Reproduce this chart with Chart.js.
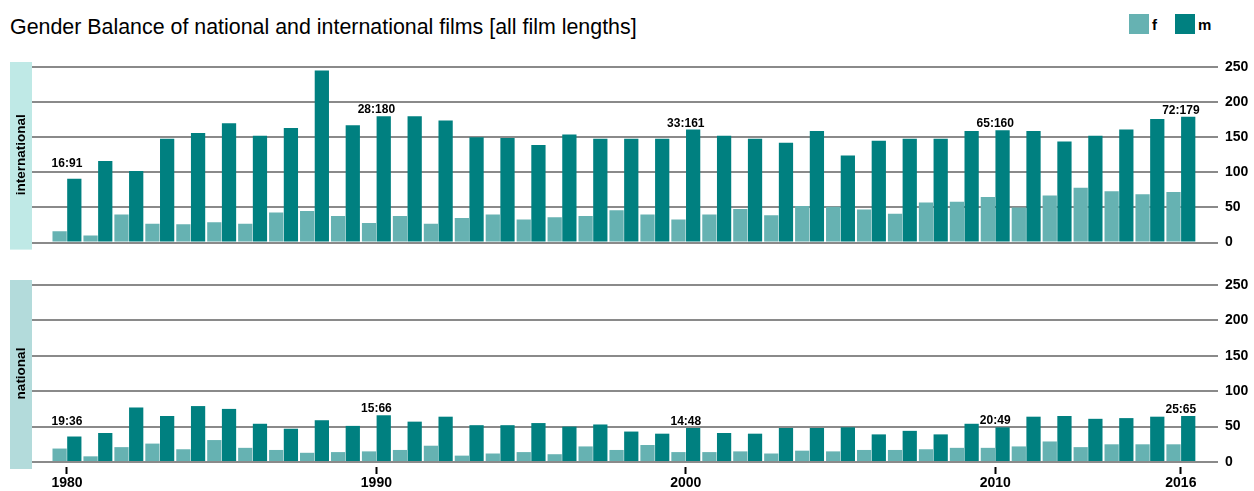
<!DOCTYPE html>
<html>
<head>
<meta charset="utf-8">
<script src="https://cdn.jsdelivr.net/npm/chart.js@4.4.1/dist/chart.umd.min.js"></script>
<style>
  body { margin: 0; background: #fff; font-family: "Liberation Sans", Arial, sans-serif; }
  #wrap { position: relative; width: 1254px; height: 491px; overflow: hidden; }
  #title { position: absolute; left: 10px; top: 17px; font-size: 21.4px; line-height: 1; color: #000; white-space: nowrap; }
  #legend { position: absolute; left: 1129px; top: 14px; display: flex; align-items: center; font-weight: bold; font-size: 15px; }
  #legend .item { display: flex; align-items: center; }
  #legend .item + .item { margin-left: 18px; }
  #legend .box { width: 20px; height: 20px; margin-right: 3px; }
  #intChart { position: absolute; left: 0; top: 0; }
  #natChart { position: absolute; left: 0; top: 258px; }
</style>
</head>
<body>
<div id="wrap">
  <div id="title">Gender Balance of national and international films [all film lengths]</div>
  <div id="legend"></div>
  <canvas id="intChart" width="1254" height="258"></canvas>
  <canvas id="natChart" width="1254" height="233"></canvas>
</div>
<script>
const years = [1980, 1981, 1982, 1983, 1984, 1985, 1986, 1987, 1988, 1989,
               1990, 1991, 1992, 1993, 1994, 1995, 1996, 1997, 1998, 1999,
               2000, 2001, 2002, 2003, 2004, 2005, 2006, 2007, 2008, 2009,
               2010, 2011, 2012, 2013, 2014, 2015, 2016];

const intF = [16, 10, 40, 27, 26, 29, 27, 43, 45, 38, 28, 38, 27, 35, 40, 33, 36, 38, 46, 40,
              33, 40, 48, 39, 52, 51, 47, 41, 57, 58, 65, 50, 67, 78, 73, 69, 72];
const intM = [91, 116, 102, 148, 156, 170, 152, 163, 245, 167, 180, 180, 174, 150, 149, 139, 154, 148, 148, 148,
              161, 152, 148, 142, 159, 124, 145, 148, 148, 159, 160, 159, 144, 152, 161, 176, 179];
const natF = [19, 8, 21, 26, 18, 31, 20, 17, 13, 14, 15, 17, 23, 9, 12, 14, 11, 22, 17, 24,
              14, 14, 15, 12, 16, 15, 17, 17, 18, 20, 20, 22, 29, 21, 25, 25, 25];
const natM = [36, 41, 77, 65, 79, 75, 54, 47, 59, 51, 66, 57, 64, 52, 52, 55, 50, 53, 43, 40,
              48, 41, 40, 48, 48, 49, 39, 44, 39, 54, 49, 64, 65, 61, 62, 64, 65];

const yearTicks = [1980, 1990, 2000, 2010, 2016];
const labelYears = [1980, 1990, 2000, 2010, 2016];
const yTicks = [0, 50, 100, 150, 200, 250];

const colF = "#66b2b2";
const colM = "#008080";
const FONT = '"Liberation Sans", Arial, sans-serif';

// legend
const legend = document.getElementById("legend");
[["f", colF], ["m", colM]].forEach(([name, col]) => {
  const it = document.createElement("div");
  it.className = "item";
  it.innerHTML = `<span class="box" style="background:${col}"></span><span>${name}</span>`;
  legend.appendChild(it);
});

// side label box + f:m annotations
const panelDecor = {
  id: "panelDecor",
  beforeDraw(chart, args, opts) {
    const { ctx, chartArea } = chart;
    ctx.save();
    ctx.fillStyle = opts.boxColor;
    ctx.fillRect(10, chartArea.top - 5, 22, chartArea.bottom - chartArea.top + 12);
    ctx.translate(21, (chartArea.top + chartArea.bottom) / 2);
    ctx.rotate(-Math.PI / 2);
    ctx.fillStyle = "#000";
    ctx.font = "bold 13.5px " + FONT;
    ctx.textAlign = "center";
    ctx.textBaseline = "middle";
    ctx.fillText(opts.text, 0, 0);
    ctx.restore();
  },
  afterDatasetsDraw(chart) {
    const { ctx } = chart;
    const xs = chart.scales.x, ys = chart.scales.y;
    const f = chart.data.datasets[0].data, m = chart.data.datasets[1].data;
    ctx.save();
    ctx.fillStyle = "#000";
    ctx.font = "bold 12px " + FONT;
    ctx.textAlign = "center";
    ctx.textBaseline = "alphabetic";
    labelYears.forEach((yr, k) => {
      const i = years.indexOf(yr);
      const top = ys.getPixelForValue(Math.max(f[i].y, m[i].y));
      const lift = k === 0 ? 12 : 3;
      ctx.fillText(f[i].y + ":" + m[i].y, xs.getPixelForValue(yr), top - lift);
    });
    ctx.restore();
  }
};

function makeChart(id, fVals, mVals, sideText, boxColor, showX) {
  return new Chart(document.getElementById(id), {
    type: "bar",
    data: {
      datasets: [
        { label: "f", data: years.map((y, i) => ({ x: y, y: fVals[i] })), backgroundColor: colF },
        { label: "m", data: years.map((y, i) => ({ x: y, y: mVals[i] })), backgroundColor: colM }
      ]
    },
    options: {
      responsive: false,
      animation: false,
      events: [],
      barPercentage: 0.97,
      categoryPercentage: 0.95,
      layout: { padding: showX ? { left: 32, top: 27, right: 0, bottom: 0 } : { left: 32, top: 67, right: 0, bottom: 14 } },
      plugins: {
        legend: { display: false },
        tooltip: { enabled: false },
        panelDecor: { text: sideText, boxColor: boxColor }
      },
      scales: {
        x: {
          type: "linear",
          offset: false,
          min: 1978.87,
          max: 2017.2,
          display: showX,
          afterBuildTicks: s => { s.ticks = yearTicks.map(v => ({ value: v })); },
          afterFit: s => { s.height = showX ? 29 : 0; },
          border: { display: false },
          grid: {
            offset: false,
            drawOnChartArea: false,
            drawTicks: true,
            tickLength: 12,
            tickWidth: 2,
            tickColor: "#000",
            tickBorderDash: [7, 5],
            tickBorderDashOffset: 7
          },
          ticks: {
            autoSkip: false,
            maxRotation: 0,
            padding: 1,
            color: "#000",
            font: { family: FONT, size: 14, weight: "bold" },
            callback: v => String(v)
          }
        },
        y: {
          position: "right",
          min: 0,
          max: 250,
          afterBuildTicks: s => { s.ticks = yTicks.map(v => ({ value: v })); },
          afterFit: s => { s.width = 36; },
          border: { display: false },
          grid: { color: "#8a8a8a", lineWidth: 2, drawTicks: false },
          ticks: {
            padding: 7,
            color: "#000",
            font: { family: FONT, size: 14, weight: "bold" }
          }
        }
      }
    },
    plugins: [panelDecor]
  });
}

makeChart("intChart", intF, intM, "international", "#bfe9e6", false);
makeChart("natChart", natF, natM, "national", "#b3dbdb", true);
</script>
</body>
</html>
